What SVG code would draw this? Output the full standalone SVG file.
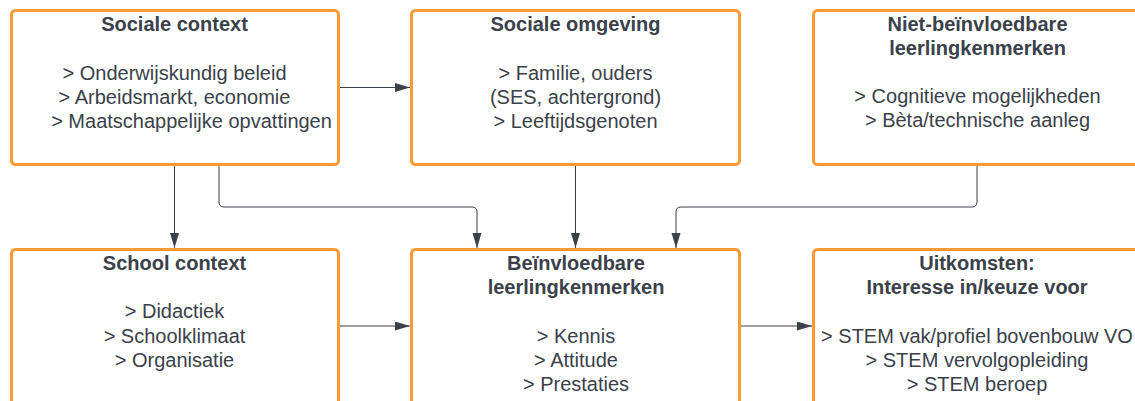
<svg xmlns="http://www.w3.org/2000/svg" width="1135" height="401" viewBox="0 0 1135 401">
<style>
.box{fill:#fff;stroke:#FF9933;stroke-width:3}
.t{font-family:"Liberation Sans",Arial,sans-serif;font-size:20px;fill:#3a414a;text-anchor:middle}
.b{font-weight:bold}
.c{fill:none;stroke:#3a414a;stroke-width:1}
</style>
<defs>
<marker id="ah" markerUnits="userSpaceOnUse" markerWidth="15" markerHeight="10" refX="15" refY="4.5" orient="auto">
<path d="M0,0 L15,4.5 L0,9 z" fill="#3a414a"/>
</marker>
</defs>
<rect width="1135" height="401" fill="#fff"/>
<g id="connectors">
<path class="c" d="M339.5,87.5 H410" marker-end="url(#ah)"/>
<path class="c" d="M174.5,166 V248" marker-end="url(#ah)"/>
<path class="c" d="M219,166 V202 Q219,207 224,207 H472 Q477,207 477,212 V248" marker-end="url(#ah)"/>
<path class="c" d="M575.5,166 V248" marker-end="url(#ah)"/>
<path class="c" d="M977,166 V202 Q977,207 972,207 H681 Q676,207 676,212 V248" marker-end="url(#ah)"/>
<path class="c" d="M339.5,326 H410" marker-end="url(#ah)"/>
<path class="c" d="M740.5,326 H812" marker-end="url(#ah)"/>
</g>
<g id="sociale-context">
<rect class="box" x="11.5" y="10.5" width="327" height="154" rx="4"/>
<text class="t b" x="174.5" y="31">Sociale context</text>
<text class="t" x="174.5" y="79.5">&gt; Onderwijskundig beleid</text>
<text class="t" x="174.5" y="104">&gt; Arbeidsmarkt, economie</text>
<text class="t" x="191.5" y="128">&gt; Maatschappelijke opvattingen</text>
</g>
<g id="sociale-omgeving">
<rect class="box" x="411.5" y="10.5" width="328" height="154" rx="4"/>
<text class="t b" x="575.5" y="31">Sociale omgeving</text>
<text class="t" x="575.5" y="79.5">&gt; Familie, ouders</text>
<text class="t" x="575.5" y="104">(SES, achtergrond)</text>
<text class="t" x="575.5" y="128">&gt; Leeftijdsgenoten</text>
</g>
<g id="niet-beinvloedbare">
<rect class="box" x="813.5" y="10.5" width="328" height="154" rx="4"/>
<text class="t b" x="977.5" y="30.5">Niet-beïnvloedbare</text>
<text class="t b" x="977.5" y="54.5">leerlingkenmerken</text>
<text class="t" x="977.5" y="103">&gt; Cognitieve mogelijkheden</text>
<text class="t" x="977.5" y="127">&gt; Bèta/technische aanleg</text>
</g>
<g id="school-context">
<rect class="box" x="11.5" y="249.5" width="327" height="160" rx="4"/>
<text class="t b" x="174.5" y="269.5">School context</text>
<text class="t" x="174.5" y="318">&gt; Didactiek</text>
<text class="t" x="174.5" y="342.5">&gt; Schoolklimaat</text>
<text class="t" x="174.5" y="366.5">&gt; Organisatie</text>
</g>
<g id="beinvloedbare">
<rect class="box" x="411.5" y="249.5" width="328" height="160" rx="4"/>
<text class="t b" x="576" y="269.5">Beïnvloedbare</text>
<text class="t b" x="576" y="293.5">leerlingkenmerken</text>
<text class="t" x="576" y="342.5">&gt; Kennis</text>
<text class="t" x="576" y="366.5">&gt; Attitude</text>
<text class="t" x="576" y="391">&gt; Prestaties</text>
</g>
<g id="uitkomsten">
<rect class="box" x="813.5" y="249.5" width="328" height="160" rx="4"/>
<text class="t b" x="977" y="269.5">Uitkomsten:</text>
<text class="t b" x="977" y="293.5">Interesse in/keuze voor</text>
<text class="t" x="977" y="342.5">&gt; STEM vak/profiel bovenbouw VO</text>
<text class="t" x="977" y="366.5">&gt; STEM vervolgopleiding</text>
<text class="t" x="977" y="391">&gt; STEM beroep</text>
</g>
</svg>
